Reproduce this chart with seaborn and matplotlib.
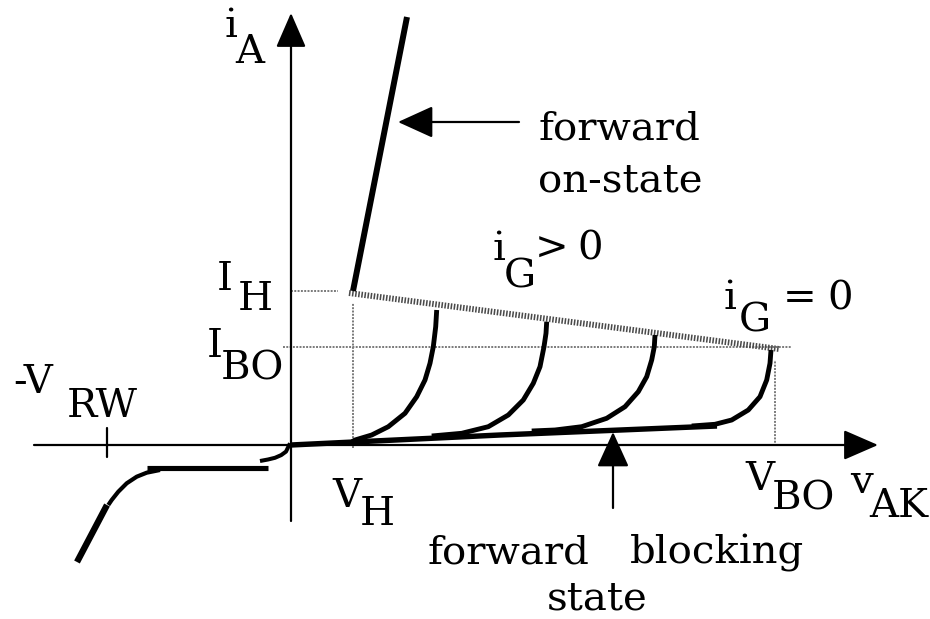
import matplotlib
matplotlib.use("Agg")
import matplotlib.pyplot as plt
import numpy as np
import pandas as pd
import seaborn as sns

# Thyristor i_A - v_AK characteristic (arbitrary units)
V_H, I_H = 6.2, 15.4
V_BO, I_BO = 48.4, 9.8
V_RW = -18.4

# forward on-state branch
on_v = [6.2, 11.6]
on_i = [15.4, 42.8]

# holding boundary joining the switching points
hold_v = [5.8, 48.8]
hold_i = [15.2, 9.6]

# forward blocking leakage
block_v = [0.0, 20.9, 42.6]
block_i = [0.0, 1.0, 1.9]

# switching curves for decreasing gate current (last one: i_G = 0)
gate1_v = [6.1, 6.4, 8.07, 9.73, 11.4, 12.57, 13.4, 13.9, 14.23, 14.47, 14.57]
gate1_i = [0.32, 0.5, 1.0, 1.83, 3.17, 4.83, 6.5, 8.17, 9.83, 11.83, 13.5]
gate2_v = [14.07, 17.07, 19.73, 21.73, 23.23, 24.23, 24.9, 25.3, 25.5, 25.57]
gate2_i = [0.9, 1.17, 1.83, 3.0, 4.5, 6.17, 7.83, 9.83, 11.17, 12.33]
gate3_v = [24.07, 26.4, 29.07, 31.57, 33.4, 34.73, 35.57, 36.07, 36.33, 36.4]
gate3_i = [1.4, 1.5, 1.83, 2.67, 3.83, 5.33, 6.83, 8.5, 9.83, 11.0]
gate4_v = [40.07, 42.4, 44.07, 45.73, 46.9, 47.57, 47.9, 48.0]
gate4_i = [1.9, 2.07, 2.5, 3.5, 4.83, 6.5, 8.17, 9.5]

# reverse blocking and breakdown
rev_leak_v = [-0.1, -0.5, -0.98, -1.6, -2.3, -3.1]
rev_leak_i = [0.17, -0.66, -1.01, -1.28, -1.45, -1.6]
rev_flat_v = [-2.3, -14.4]
rev_flat_i = [-2.3, -2.3]
knee_v = [-13.1, -14.43, -15.43, -16.43, -17.27, -17.93, -18.27]
knee_i = [-2.5, -2.77, -3.17, -3.83, -4.67, -5.5, -6.0]
breakdown_v = [-18.4, -21.4]
breakdown_i = [-6.0, -11.7]

sns.set_theme(style="white")
plt.rcParams["font.family"] = ["DejaVu Serif", "DejaVu Sans"]

fig = plt.figure(figsize=(9.3, 6.19), dpi=100)
ax = fig.add_axes([0, 0, 1, 1])
ax.set_xlim(-29.1, 63.9)
ax.set_ylim(-17.4, 44.5)
ax.axis("off")

guide = dict(color="#7a7a7a", lw=1.4, ls=(0, (1, 0.7)), zorder=1)
# dotted guides for the holding and break-over levels
ax.plot([0, 4.7], [I_H, I_H], **guide)
ax.plot([-0.8, 50.1], [I_BO, I_BO], **guide)
ax.plot([V_H, V_H], [-0.3, 14.2], **guide)
ax.plot([V_BO, V_BO], [-0.1, 8.5], **guide)

# coordinate axes with arrow heads
axis_kw = dict(arrowstyle="-|>,head_length=1.08,head_width=0.47",
               mutation_scale=20, lw=1.6, color="black",
               shrinkA=0, shrinkB=0)
ax.annotate("", xy=(58.7, 0), xytext=(-25.7, 0), arrowprops=axis_kw, zorder=2)
ax.annotate("", xy=(0, 43.2), xytext=(0, -7.6), arrowprops=axis_kw, zorder=2)
ax.plot([V_RW, V_RW], [-1.2, 1.7], color="black", lw=1.6, zorder=2)

def curve(v, i, lw, color="black", **kw):
    df = pd.DataFrame({"v": v, "i": i})
    sns.lineplot(data=df, x="v", y="i", sort=False, estimator=None,
                 color=color, lw=lw, ax=ax, solid_capstyle="butt",
                 solid_joinstyle="round", zorder=3, **kw)

# holding boundary (hatched grey band)
curve(hold_v, hold_i, 4.3, color="#4a4a4a", ls=(0, (0.26, 0.26)))

curve(block_v, block_i, 3.9)
for gv, gi in [(gate1_v, gate1_i), (gate2_v, gate2_i),
               (gate3_v, gate3_i), (gate4_v, gate4_i)]:
    curve(gv, gi, 3.5)
curve(on_v, on_i, 4.3)

curve(rev_leak_v, rev_leak_i, 2.9)
curve(rev_flat_v, rev_flat_i, 3.7)
curve(knee_v, knee_i, 3.0)
curve(breakdown_v, breakdown_i, 4.6)

# pointer arrows
ptr_kw = dict(arrowstyle="-|>,head_length=1.1,head_width=0.5",
              mutation_scale=20, lw=1.6, color="black", shrinkA=0, shrinkB=0)
ax.annotate("", xy=(10.7, 32.3), xytext=(22.8, 32.3), arrowprops=ptr_kw, zorder=4)
ax.annotate("", xy=(32.2, 1.3), xytext=(32.2, -6.3), arrowprops=ptr_kw, zorder=4)

fs = 29
def label(x, y, s, ha="left"):
    ax.text(x, y, s, fontsize=fs, ha=ha, va="baseline", color="black")

label(-6.7, 40.8, "i")
label(-5.6, 38.2, "A")
label(24.7, 30.5, "forward")
label(24.7, 25.4, "on-state")
label(20.1, 18.5, "i")
label(21.3, 15.8, "G")
label(24.4, 18.5, ">")
label(28.6, 18.5, "0")
label(43.2, 13.6, "i")
label(44.8, 11.3, "G")
label(49.2, 13.6, "=")
label(53.6, 13.6, "0")
label(-7.4, 15.5, "I")
label(-5.3, 13.5, "H")
label(-8.4, 8.8, "I")
label(-7.0, 6.5, "BO")
label(-27.8, 5.2, "-V")
label(-22.4, 2.8, "RW")
label(4.1, -6.2, "V")
label(6.9, -8.0, "H")
label(45.4, -4.5, "V")
label(48.1, -6.5, "BO")
label(55.9, -4.8, "v")
label(63.7, -7.2, "AK", ha="right")
label(13.6, -11.8, "forward")
label(33.9, -11.8, "blocking")
label(25.6, -16.5, "state")

fig.savefig("out.png", dpi=100, facecolor="white")
